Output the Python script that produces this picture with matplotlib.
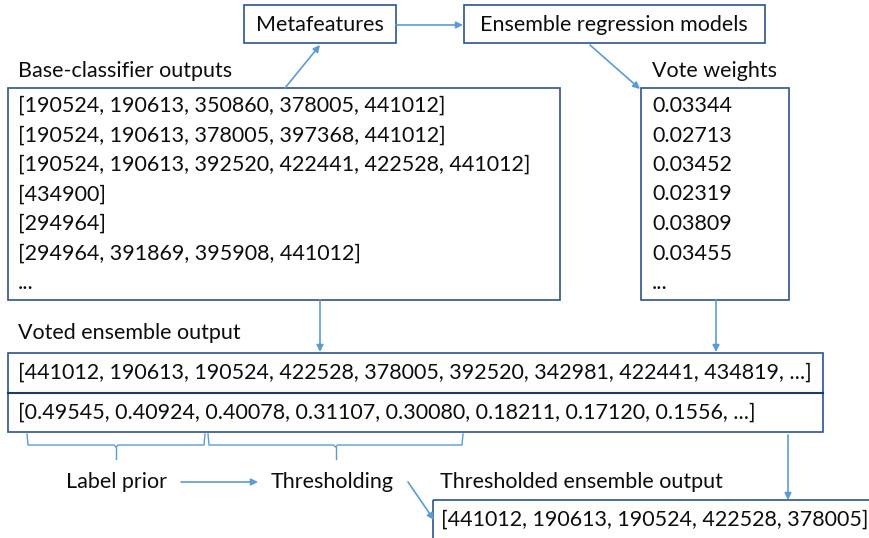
import matplotlib.pyplot as plt
from matplotlib.patches import Rectangle

# Diagram text
base_outputs = [
    '[190524, 190613, 350860, 378005, 441012]',
    '[190524, 190613, 378005, 397368, 441012]',
    '[190524, 190613, 392520, 422441, 422528, 441012]',
    '[434900]',
    '[294964]',
    '[294964, 391869, 395908, 441012]',
    '...',
]
vote_weights = ['0.03344', '0.02713', '0.03452', '0.02319', '0.03809', '0.03455', '...']
voted_labels = '[441012, 190613, 190524, 422528, 378005, 392520, 342981, 422441, 434819, ...]'
voted_scores = '[0.49545, 0.40924, 0.40078, 0.31107, 0.30080, 0.18211, 0.17120, 0.1556, ...]'
thresholded = '[441012, 190613, 190524, 422528, 378005]'

BOX = '#2F528F'
ARROW = '#5B9BD5'
FONT = 'Lato'
FS = 15.5

fig = plt.figure(figsize=(8.69, 5.38), dpi=100)
ax = fig.add_axes([0, 0, 1, 1])
ax.set_xlim(0, 869)
ax.set_ylim(538, 0)
ax.axis('off')


def box(x0, y0, x1, y1):
    ax.add_patch(Rectangle((x0, y0), x1 - x0, y1 - y0, fill=False,
                           edgecolor=BOX, linewidth=1.2))


def text(x, y, s, ha='left'):
    ax.text(x, y, s, ha=ha, va='center', fontsize=FS, family=FONT, color='#0d0d0d')


def arrow(x0, y0, x1, y1):
    ax.annotate('', xy=(x1, y1), xytext=(x0, y0),
                arrowprops=dict(arrowstyle='-|>', color=ARROW, lw=1.2,
                                mutation_scale=10, shrinkA=0, shrinkB=0))


# Top boxes
box(244, 5, 396, 43)
text(320, 25, 'Metafeatures', ha='center')
box(464, 5, 765, 43)
text(614, 25, 'Ensemble regression models', ha='center')
arrow(396, 25, 463, 25)

# Base-classifier outputs
text(18, 71, 'Base-classifier outputs')
box(8, 88, 560, 300)
for i, s in enumerate(base_outputs):
    text(18, 106 + i * 29.5, s)
arrow(285, 88, 320, 45)

# Vote weights
text(652, 71, 'Vote weights')
box(641, 88, 789, 300)
for i, s in enumerate(vote_weights):
    text(652, 106 + i * 29.5, s)
arrow(590, 45, 640, 89)

# Voted ensemble output
arrow(320, 300, 320, 352)
arrow(716, 300, 716, 352)
text(18, 333, 'Voted ensemble output')
box(8, 353, 823, 432)
ax.plot([8, 823], [393, 393], color='#1F3864', lw=1.5)
text(18, 373, voted_labels)
text(18, 413, voted_scores)

# Braces under the score list
for x0, x1 in [(27, 205), (208, 463)]:
    xm = (x0 + x1) / 2
    ax.plot([x0, x0 + 1, xm - 2, xm, xm + 2, x1 - 1, x1],
            [434, 445, 445, 447, 445, 445, 434], color=ARROW, lw=1.0)
    ax.plot([xm, xm], [447, 459], color=ARROW, lw=1.0)

text(66, 482, 'Label prior')
arrow(181, 482, 258, 482)
text(271, 482, 'Thresholding')
arrow(408, 482, 434, 520)

# Thresholded output
text(440, 482, 'Thresholded ensemble output')
arrow(788, 435, 788, 500)
box(433, 500, 880, 545)
text(441, 520, thresholded)

fig.savefig('out.png', dpi=100)
